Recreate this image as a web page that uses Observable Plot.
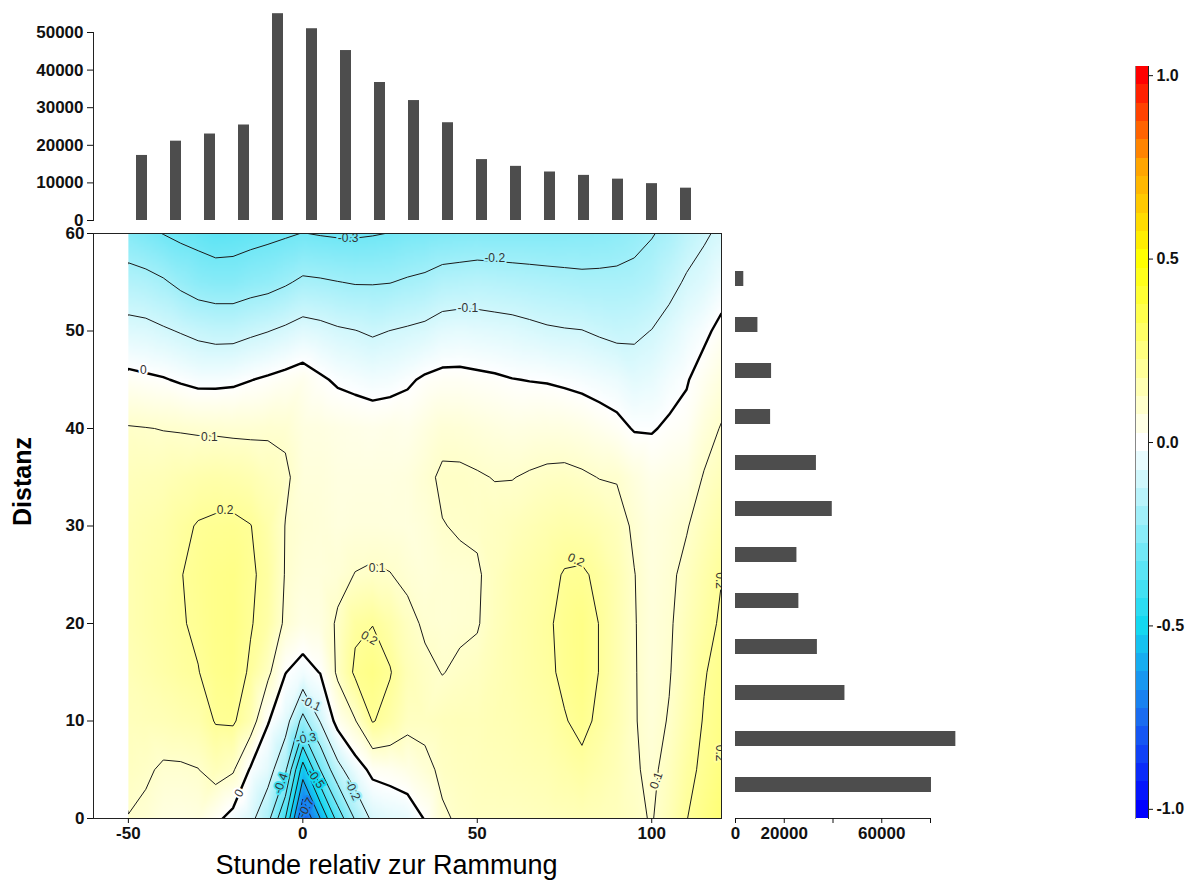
<!DOCTYPE html>
<html>
<head>
<meta charset="utf-8">
<script src="https://cdn.jsdelivr.net/npm/d3@7"></script>
<script src="https://cdn.jsdelivr.net/npm/@observablehq/plot@0.6"></script>
<style>
  body { margin: 0; background: #fff; }
  #wrap { position: relative; width: 1194px; height: 888px; overflow: hidden; }
  #wrap svg { position: absolute; left: 0; top: 0; }
</style>
</head>
<body>
<div id="wrap"></div>
<script>
// ---- data ----
const hours = [-50, -45, -40, -35, -30, -25, -20, -15, -10, -5, 0, 5, 10, 15, 20, 25, 30, 35, 40, 45, 50, 55, 60, 65, 70, 75, 80, 85, 90, 95, 100, 105, 110, 115, 120];
const distances = [0, 5, 10, 15, 20, 25, 30, 35, 40, 45, 50, 55, 60];
// correlation grid: one row per distance (0 .. 60), one value per hour column (-50 .. 120)
const corr = [
  [0.098, 0.085, 0.06, 0.055, 0.06, 0.02, -0.03, -0.075, -0.17, -0.40, -0.80, -0.60, -0.36, -0.19, -0.08, -0.06, -0.05, 0.005, 0.09, 0.11, 0.12, 0.12, 0.12, 0.125, 0.13, 0.135, 0.14, 0.135, 0.13, 0.115, 0.095, 0.14, 0.198, 0.235, 0.27],
  [0.12, 0.11, 0.09, 0.09, 0.098, 0.135, 0.11, -0.01, -0.06, -0.18, -0.55, -0.30, -0.13, -0.04, 0.02, 0.03, 0.05, 0.08, 0.115, 0.125, 0.13, 0.135, 0.14, 0.145, 0.15, 0.165, 0.18, 0.16, 0.14, 0.108, 0.085, 0.125, 0.18, 0.215, 0.25],
  [0.13, 0.135, 0.14, 0.15, 0.16, 0.205, 0.21, 0.15, 0.005, -0.06, -0.23, -0.095, 0.03, 0.095, 0.205, 0.17, 0.12, 0.12, 0.13, 0.135, 0.135, 0.145, 0.15, 0.16, 0.17, 0.195, 0.22, 0.185, 0.15, 0.105, 0.075, 0.105, 0.16, 0.205, 0.235],
  [0.14, 0.155, 0.17, 0.185, 0.198, 0.225, 0.235, 0.19, 0.12, 0.002, -0.03, 0.003, 0.115, 0.215, 0.235, 0.205, 0.14, 0.115, 0.098, 0.11, 0.12, 0.14, 0.155, 0.17, 0.185, 0.215, 0.235, 0.198, 0.155, 0.105, 0.07, 0.095, 0.145, 0.195, 0.225],
  [0.15, 0.165, 0.18, 0.195, 0.21, 0.23, 0.24, 0.205, 0.17, 0.085, 0.05, 0.06, 0.11, 0.185, 0.198, 0.165, 0.12, 0.09, 0.085, 0.09, 0.095, 0.13, 0.155, 0.172, 0.19, 0.218, 0.235, 0.198, 0.155, 0.104, 0.07, 0.09, 0.135, 0.175, 0.21],
  [0.15, 0.165, 0.175, 0.198, 0.215, 0.228, 0.235, 0.21, 0.18, 0.095, 0.07, 0.07, 0.08, 0.102, 0.11, 0.102, 0.085, 0.075, 0.085, 0.088, 0.092, 0.125, 0.15, 0.165, 0.18, 0.205, 0.21, 0.185, 0.15, 0.102, 0.065, 0.085, 0.12, 0.16, 0.198],
  [0.145, 0.155, 0.165, 0.185, 0.205, 0.212, 0.215, 0.202, 0.165, 0.098, 0.08, 0.075, 0.065, 0.07, 0.07, 0.068, 0.065, 0.075, 0.098, 0.105, 0.11, 0.12, 0.13, 0.143, 0.155, 0.165, 0.16, 0.148, 0.13, 0.088, 0.06, 0.075, 0.095, 0.135, 0.17],
  [0.13, 0.135, 0.14, 0.15, 0.16, 0.165, 0.16, 0.15, 0.13, 0.112, 0.07, 0.07, 0.06, 0.06, 0.06, 0.06, 0.065, 0.085, 0.11, 0.11, 0.105, 0.098, 0.098, 0.107, 0.115, 0.118, 0.11, 0.098, 0.095, 0.065, 0.04, 0.05, 0.06, 0.105, 0.135],
  [0.105, 0.102, 0.098, 0.095, 0.09, 0.088, 0.085, 0.085, 0.09, 0.088, 0.06, 0.058, 0.05, 0.045, 0.04, 0.045, 0.04, 0.06, 0.08, 0.078, 0.07, 0.062, 0.055, 0.058, 0.06, 0.058, 0.05, 0.035, 0.02, -0.005, -0.005, 0.01, 0.02, 0.07, 0.105],
  [0.02, 0.012, 0.005, -0.008, -0.02, -0.02, -0.015, -0.002, 0.01, 0.022, 0.035, 0.01, -0.01, -0.02, -0.03, -0.025, -0.01, 0.01, 0.02, 0.02, 0.015, 0.01, 0.002, -0.002, -0.005, -0.012, -0.02, -0.03, -0.04, -0.06, -0.05, -0.025, -0.005, 0.03, 0.065],
  [-0.07, -0.075, -0.09, -0.105, -0.12, -0.13, -0.13, -0.115, -0.102, -0.085, -0.065, -0.075, -0.09, -0.098, -0.11, -0.099, -0.09, -0.08, -0.06, -0.055, -0.06, -0.065, -0.07, -0.08, -0.09, -0.095, -0.098, -0.11, -0.12, -0.115, -0.098, -0.07, -0.04, -0.015, 0.02],
  [-0.16, -0.17, -0.19, -0.22, -0.245, -0.255, -0.255, -0.24, -0.23, -0.21, -0.185, -0.19, -0.198, -0.205, -0.205, -0.202, -0.19, -0.18, -0.16, -0.155, -0.15, -0.155, -0.16, -0.165, -0.17, -0.175, -0.18, -0.18, -0.18, -0.175, -0.16, -0.125, -0.09, -0.07, -0.035],
  [-0.26, -0.28, -0.302, -0.32, -0.33, -0.345, -0.34, -0.33, -0.32, -0.31, -0.298, -0.305, -0.31, -0.31, -0.305, -0.298, -0.285, -0.28, -0.27, -0.265, -0.26, -0.26, -0.26, -0.26, -0.26, -0.258, -0.255, -0.25, -0.24, -0.225, -0.205, -0.18, -0.14, -0.11, -0.085]
];
const contourLevels = [-0.7, -0.6, -0.5, -0.4, -0.3, -0.2, -0.1, 0.1, 0.2];
const zeroLevel = [0];
// contour labels (data coordinates, value, text angle)
const contourLabels = [
  {x: 13, y: 59.5, v: -0.3, r: 0},
  {x: 55, y: 57.5, v: -0.2, r: 0},
  {x: 47.3, y: 52.3, v: -0.1, r: 0},
  {x: -45.7, y: 46, v: 0, r: 0},
  {x: -26.8, y: 39.1, v: 0.1, r: 0},
  {x: -22.3, y: 31.6, v: 0.2, r: 0},
  {x: 21.3, y: 25.7, v: 0.1, r: 0},
  {x: 19, y: 18.5, v: 0.2, r: 30},
  {x: 78.3, y: 26.5, v: 0.2, r: 25},
  {x: 101.3, y: 3.9, v: 0.1, r: -70},
  {x: 119.4, y: 24.4, v: 0.2, r: 90},
  {x: 119.4, y: 6.7, v: 0.2, r: 90},
  {x: 2.3, y: 11.8, v: -0.1, r: 25},
  {x: 0.9, y: 8.2, v: -0.3, r: -10},
  {x: -6.3, y: 3.6, v: -0.4, r: -70},
  {x: 3.7, y: 4.1, v: -0.5, r: 55},
  {x: 14.3, y: 2.9, v: -0.2, r: 65},
  {x: -18.3, y: 2.6, v: 0, r: -60},
  {x: 0.9, y: 1.1, v: -0.7, r: -60}
];
// marginal histograms
const topBins = [-50, -40, -30, -20, -10, 0, 10, 20, 30, 40, 50, 60, 70, 80, 90, 100, 110];
const topCounts = [17300, 21100, 23000, 25400, 55000, 51000, 45200, 36700, 31900, 26000, 16200, 14400, 12900, 12000, 11000, 9800, 8600];
const distBins = [0, 5, 10, 15, 20, 25, 30, 35, 40, 45, 50, 55];
const distCounts = [80400, 90400, 44900, 33600, 26000, 25200, 39700, 33200, 14400, 14800, 9200, 3400];
// ticks
const xTicks = [-50, 0, 50, 100];
const yTicks = [0, 10, 20, 30, 40, 50, 60];
const topTicks = [0, 10000, 20000, 30000, 40000, 50000];
const rightTicks = [0, 20000, 40000, 60000, 80000];
const rightTickLabels = ["0", "20000", "", "60000", ""];
const cbTicks = [-1, -0.5, 0, 0.5, 1];
const cbStops = [-1, -0.75, -0.5, 0, 0.5, 0.75, 1];
const cbColors = ["#0000ff", "#1a6cf0", "#14d8f0", "#ffffff", "#ffff00", "#ffa500", "#ff0000"];

// ---- build ----
const W = 1194, H = 888;
const FONT = "'Liberation Sans', Arial, Helvetica, sans-serif";
const svgStyle = {background: "transparent", overflow: "visible", fontFamily: FONT, color: "#111"};
const colorOpts = {type: "linear", domain: cbStops, range: cbColors, interpolate: "rgb", clamp: true};
const gridPoints = distances.flatMap((d, i) => hours.map((h, j) => ({x: h, y: d, v: corr[i][j]})));
const gridValues = corr.flat();
const topData = topBins.map((b, i) => ({bin: b, count: topCounts[i]}));
const rightData = distBins.map((b, i) => ({bin: b, count: distCounts[i]}));
const cbSteps = d3.range(-20, 21).map(i => i / 20);
const tickText = {fontSize: 17, fontWeight: "bold", label: null};

// frame of the main panel: x -60..120 over px 93..721
const frameL = 93, frameR = 721, frameT = 233, frameB = 818;
const xDomainFull = [-60, 120];
const dataLeft = frameL + (hours[0] - xDomainFull[0]) * (frameR - frameL) / (xDomainFull[1] - xDomainFull[0]);
// grid mode: each sample sits at the centre of its cell, so the cell box reaches half a step past the data
const stepX = hours[1] - hours[0], stepY = distances[1] - distances[0];
const gridExt = {
  width: hours.length, height: distances.length,
  x1: hours[0] - stepX / 2, x2: hours[hours.length - 1] + stepX / 2,
  y1: distances[0] - stepY / 2, y2: distances[distances.length - 1] + stepY / 2
};
const rasterExt = {x1: hours[0], x2: hours[hours.length - 1], y1: distances[0], y2: distances[distances.length - 1]};

const wrap = document.getElementById("wrap");

// main contour panel (data area only, x -50..120)
wrap.append(Plot.plot({
  width: W, height: H,
  marginLeft: dataLeft, marginRight: W - frameR, marginTop: frameT, marginBottom: H - frameB,
  style: svgStyle,
  x: {domain: [hours[0], hours[hours.length - 1]], axis: null},
  y: {domain: [0, 60], axis: null},
  color: colorOpts,
  marks: [
    Plot.raster(gridPoints, {x: "x", y: "y", fill: "v", interpolate: "barycentric", pixelSize: 3, ...rasterExt}),
    Plot.contour(gridValues, {...gridExt, thresholds: contourLevels, fill: "none", stroke: "#1a1a1a", strokeWidth: 1, clip: true}),
    Plot.contour(gridValues, {...gridExt, thresholds: zeroLevel, fill: "none", stroke: "#000", strokeWidth: 2.4, clip: true}),
    Plot.text(contourLabels, {x: "x", y: "y", text: d => String(d.v), rotate: "r",
      fill: "#333", stroke: "v", strokeWidth: 4, fontSize: 12, clip: true})
  ]
}));

// axes, frame and titles of the main panel (x -60..120)
wrap.append(Plot.plot({
  width: W, height: H,
  marginLeft: frameL, marginRight: W - frameR, marginTop: frameT, marginBottom: H - frameB,
  style: svgStyle,
  x: {domain: xDomainFull},
  y: {domain: [0, 60]},
  marks: [
    Plot.frame({stroke: "#222"}),
    Plot.axisX({ticks: xTicks, tickFormat: d => String(d), tickSize: 5, tickPadding: 3, ...tickText}),
    Plot.axisY({ticks: yTicks, tickFormat: d => String(d), tickSize: 6, tickPadding: 3, ...tickText}),
    Plot.text(["Stunde relativ zur Rammung"], {text: d => d, frameAnchor: "bottom", dx: -21, dy: 55, fontSize: 27, fill: "#000"}),
    Plot.text(["Distanz"], {text: d => d, frameAnchor: "left", dx: -71, rotate: -90, fontSize: 25, fontWeight: "bold", fill: "#000"})
  ]
}));

// top marginal histogram
wrap.append(Plot.plot({
  width: W, height: H,
  marginLeft: frameL, marginRight: W - frameR, marginTop: 32, marginBottom: H - 220,
  style: svgStyle,
  x: {type: "band", domain: topBins, range: [116.5, 710.5], paddingInner: 0.677, paddingOuter: 0.3385, axis: null},
  y: {domain: [0, 50000]},
  marks: [
    Plot.barY(topData, {x: "bin", y: "count", fill: "#4d4d4d"}),
    Plot.frame({anchor: "left", stroke: "#222"}),
    Plot.axisY({ticks: topTicks, tickFormat: d => String(d), tickSize: 6, tickPadding: 4, ...tickText})
  ]
}));

// right marginal histogram
wrap.append(Plot.plot({
  width: W, height: H,
  marginLeft: 735, marginRight: W - 930, marginTop: frameT, marginBottom: H - frameB,
  style: svgStyle,
  x: {domain: [0, 80000]},
  y: {type: "band", domain: distBins, range: [810.2, 253.8], paddingInner: 0.666, paddingOuter: 0.333, axis: null},
  marks: [
    Plot.barX(rightData, {y: "bin", x: "count", fill: "#4d4d4d"}),
    Plot.frame({anchor: "bottom", stroke: "#222"}),
    Plot.axisX({ticks: rightTicks, tickFormat: d => rightTickLabels[rightTicks.indexOf(d)], tickSize: 5, tickPadding: 3, ...tickText})
  ]
}));

// colour bar
wrap.append(Plot.plot({
  width: W, height: H,
  marginLeft: 1135, marginRight: W - 1148, marginTop: 66, marginBottom: H - 818,
  style: svgStyle,
  x: {domain: [0, 1], axis: null},
  y: {domain: [-1.025, 1.025], axis: null},
  color: colorOpts,
  marks: [
    Plot.rect(cbSteps, {x1: 0, x2: 1, y1: d => d - 0.025, y2: d => d + 0.025, fill: d => d, shapeRendering: "crispEdges"}),
    Plot.frame({anchor: "left", stroke: "#888"}),
    Plot.frame({anchor: "right", stroke: "#222"}),
    Plot.axisY({anchor: "right", ticks: cbTicks, tickFormat: d => d.toFixed(1), tickSize: 4, tickPadding: 4, fontSize: 16, fontWeight: "bold", label: null})
  ]
}));
</script>
</body>
</html>
